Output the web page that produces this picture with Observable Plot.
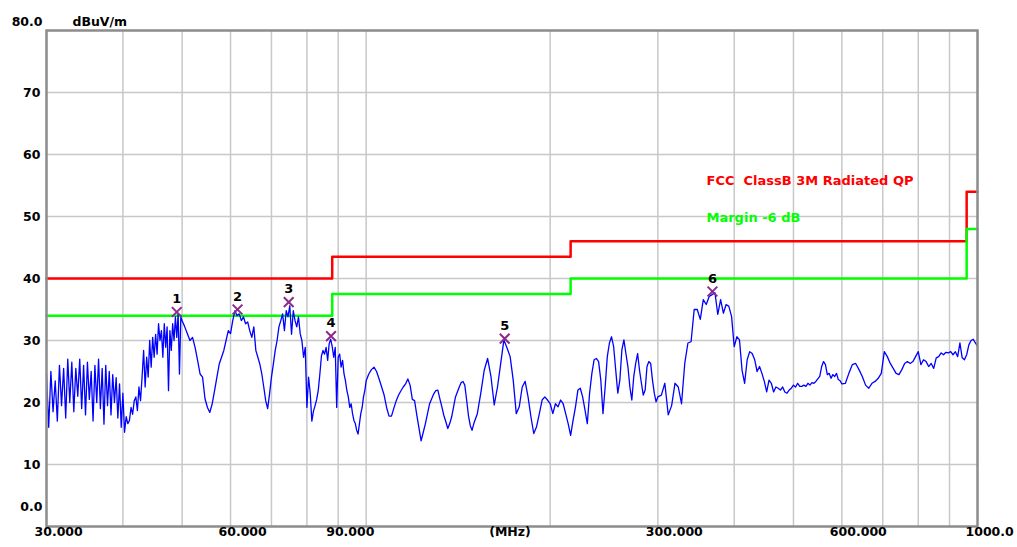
<!DOCTYPE html>
<html><head><meta charset="utf-8">
<script src="https://cdn.jsdelivr.net/npm/d3@7"></script>
<script src="https://cdn.jsdelivr.net/npm/@observablehq/plot@0.6"></script>
<style>
html,body{margin:0;padding:0;background:#fff;}
#chart svg{display:block;}
</style></head><body><div id="chart"></div>
<script>
// ---- Axis ticks ----
const xTickValues = [30, 60, 90, 300, 600, 1000];
const xTickLabels = ["30.000", "60.000", "90.000", "300.000", "600.000", "1000.0"];
const xGrid = [40, 50, 60, 70, 80, 90, 100, 200, 300, 400, 500, 600, 700, 800, 900];
const yTickValues = [10, 20, 30, 40, 50, 60, 70];
const yGrid = [10, 20, 30, 40, 50, 60, 70];

// ---- Limit lines (FCC Class B 3m QP) and margin ----
const limitFreq = [30, 88, 216, 960, 1000];
const limitLevel = [40, 43.5, 46, 54, 54];
const marginLevel = [34, 37.5, 40, 48, 48];

// ---- Marked peaks ----
const markerNo = ["1", "2", "3", "4", "5", "6"];
const markerFreq = [49.0, 61.6, 74.7, 87.6, 168.5, 368.5];
const markerLevel = [34.6, 35.0, 36.2, 30.7, 30.3, 37.9];

// ---- Measured trace (MHz, dBuV/m) ----
const freqA = [30,30.25,30.5,30.75,31,31.25,31.5,31.75,32,32.25,32.5,32.75,33,33.25,33.5,33.75,34,34.25,34.5,34.75,35,35.25,35.5,35.75,36,36.25,36.5,36.75,37,37.25,37.5,37.75,38,38.25,38.5,38.75,39,39.25,39.5,39.75,40];
const levelA = [24.5,16.0,25.0,18.5,23.5,17.0,26.0,19.5,25.5,17.5,27.0,20.0,26.5,18.5,25.5,21.0,27.0,19.0,26.0,18.0,26.5,20.5,25.0,17.0,26.0,20.0,27.0,19.0,25.5,16.5,26.0,19.5,25.0,18.0,24.5,20.0,24.0,17.5,23.0,16.0,21.5];

const freqB = [40.25,40.5,40.75,41,41.25,41.5,41.75,42,42.25,42.5,42.75,43,43.25,43.5,43.75,44,44.25,44.5,44.75,45,45.25,45.5,45.75,46,46.25,46.5,46.75,47,47.25,47.5,47.75,48,48.25,48.5,48.75,49,49.25,49.5,49.75,50];
const levelB = [15.2,17.7,16.6,17.1,19.2,18.1,20.3,20.9,18.7,22.5,20.3,24.1,28.4,22.5,27.3,24.1,30.0,25.7,30.5,27.3,31.0,27.8,32.7,30.0,31.6,27.3,32.7,28.9,32.2,21.9,31.6,28.4,32.7,30.0,33.8,30.5,34.3,24.6,33.8,33.2];

const freqC = [50.5,51,51.5,52,52.5,53,53.5,54,54.5,55,55.5,56,56.5,57,57.5,58,58.5,59,59.5,60];
const levelC = [32.2,31.1,30.0,30.5,28.9,26.8,24.6,24.1,20.6,19.2,18.4,19.8,21.9,24.1,26.2,27.3,28.4,30.0,31.6,31.1];

const freqD = [60.5,61,61.5,62,62.5,63,63.5,64,64.5,65,65.5,66,66.5,67,67.5,68,68.5,69,69.5,70,70.5,71,71.5,72,72.5,73,73.5,74,74.5,75,75.5,76,76.5,77,77.5,78,78.5,79,79.5,80,80.5,81,81.5,82,82.5,83,83.5,84,84.5,85,85.5,86,86.5,87,87.5,88,88.5,89,89.5,90,90.5,91,91.5,92,92.5,93,93.5,94,94.5,95,95.5,96,96.5,97,97.5,98,98.5,99,99.5,100];
const levelD = [33.2,34.8,34.0,34.3,33.2,33.8,32.7,33.0,31.6,30.5,32.2,28.4,27.3,26.2,24.6,22.5,20.3,19.0,21.4,24.1,26.2,28.4,30.0,32.2,33.2,34.3,31.6,34.8,33.8,35.6,31.0,34.8,33.2,32.2,33.8,31.1,30.0,27.3,28.9,19.2,24.1,21.5,17.0,18.6,19.5,20.5,22.0,24.6,27.5,28.4,27.8,28.9,26.8,29.5,30.2,29.0,27.3,28.9,19.2,27.3,27.8,25.7,26.8,24.6,23.5,21.9,20.9,19.2,19.8,18.2,17.1,16.6,15.5,14.9,16.6,18.2,19.2,20.9,21.9,23.5];

const freqE = [101,102,103,104,105,106,107,108,109,110,111,112,113,114,115,116,117,118,119,120,121,122,123,124,125,126,127,128,129,130,131,132,133,134,135,136,137,138,139,140,141,142,143,144,145,146,147,148,149,150];
const levelE = [24.6,25.3,25.7,25.0,23.8,22.5,21.2,19.2,17.8,17.8,19.1,20.3,21.2,21.9,22.5,23.0,23.8,22.8,20.5,20.3,18.0,15.9,13.8,15.2,16.6,18.2,19.8,20.6,21.4,21.9,22.0,20.6,19.3,17.9,16.9,15.8,16.6,17.7,19.3,20.9,21.7,22.5,23.2,23.4,22.8,20.4,17.9,16.3,15.5,16.6];

const freqF = [152,154,156,158,160,162,164,166,168,170,172,174,176,178,180,182,184,186,188,190,192,194,196,198,200,202,204,206,208,210,212,214,216,218,220,222,224,226,228,230,232,234,236,238,240,242,244,246,248,250,252,254,256,258,260,262,264,266,268,270,272,274,276,278,280,282,284,286,288,290,292,294,296,298,300];
const levelF = [18.2,21.5,25.2,27.1,24.2,19.6,22.5,26.3,30.1,28.8,27.4,23.6,18.2,19.3,22.5,23.4,20.9,17.7,15.0,16.1,18.2,20.4,20.9,20.4,19.8,18.2,19.8,19.3,20.4,19.8,18.2,16.6,14.7,17.1,19.3,22.0,22.3,20.9,18.8,16.6,21.5,24.7,26.9,27.1,26.6,23.6,18.2,22.5,27.4,29.6,30.6,29.0,25.2,21.5,23.6,28.5,30.1,27.9,25.8,22.5,20.4,24.2,26.3,27.9,25.2,23.1,21.2,22.0,25.8,26.6,26.3,23.6,21.5,20.1,20.9];

const freqG = [304,308,312,316,320,324,328,332,336,340,344,348,352,356,360,364,368,372,376,380,384,388,392,396,400,404,408,412,416,420,424,428,432,436,440,444,448,452,456,460,464,468,472,476,480,484,488,492,496,500,504,508,512,516,520,524,528,532,536,540,544,548,552,556,560,564,568,572,576,580,584,588,592,596,600];
const levelG = [21.2,23.1,18.0,19.5,23.1,22.5,19.8,26.3,29.6,29.8,35.0,35.0,33.4,36.6,35.8,37.1,37.4,37.7,34.2,36.6,34.4,35.8,35.5,33.9,29.0,30.6,30.1,25.2,23.1,26.9,28.2,27.9,26.9,25.0,25.8,24.7,23.4,21.7,23.6,23.1,21.7,22.5,22.3,22.0,22.5,21.7,21.5,22.0,22.3,22.8,22.5,23.1,22.6,22.6,22.8,22.6,23.1,22.8,23.2,23.1,23.4,23.8,24.2,25.8,26.6,26.1,24.5,24.7,23.9,24.5,24.2,24.7,23.7,23.5,23.0];

const freqH = [608,616,624,632,640,648,656,664,672,680,688,696,704,712,720,728,736,744,752,760,768,776,784,792,800,808,816,824,832,840,848,856,864,872,880,888,896,904,912,920,928,936,944,952,960,968,976,984,992,1000];
const levelH = [23.1,24.7,26.1,26.3,25.3,24.2,22.8,22.3,23.1,23.4,23.9,24.7,28.2,27.4,26.3,25.5,24.7,24.5,25.3,26.3,26.6,26.3,26.6,27.4,28.2,26.1,26.9,26.6,25.8,26.3,25.5,27.2,27.4,28.0,27.7,28.1,28.0,28.2,27.7,28.2,27.4,29.6,27.2,26.9,27.7,29.3,30.0,30.2,29.6,29.1];

// ---- Build tables ----
const trace = [];
[[freqA, levelA], [freqB, levelB], [freqC, levelC], [freqD, levelD],
 [freqE, levelE], [freqF, levelF], [freqG, levelG], [freqH, levelH]]
  .forEach(([fs, ls]) => fs.forEach((f, i) => trace.push({f, v: ls[i]})));
const limit = limitFreq.map((f, i) => ({f, v: limitLevel[i]}));
const margin = limitFreq.map((f, i) => ({f, v: marginLevel[i]}));
const markers = markerNo.map((n, i) => ({n, f: markerFreq[i], v: markerLevel[i]}));
const xTicks = xTickValues.map((f, i) => ({f, label: xTickLabels[i]}));

const font = "'DejaVu Sans', sans-serif";

const chart = Plot.plot({
  width: 1017,
  height: 547,
  marginLeft: 46,
  marginRight: 40,
  marginTop: 30,
  marginBottom: 21,
  style: {fontFamily: font, background: "#ffffff", overflow: "visible"},
  x: {type: "log", domain: [30, 1000], axis: null},
  y: {domain: [0, 80], axis: null},
  marks: [
    Plot.ruleX(xGrid, {stroke: "#c8c8c8", strokeWidth: 1.5}),
    Plot.ruleY(yGrid, {stroke: "#c8c8c8", strokeWidth: 1.5}),
    Plot.line(limit, {x: "f", y: "v", curve: "step-after", stroke: "#ff0000", strokeWidth: 2.5}),
    Plot.line(margin, {x: "f", y: "v", curve: "step-after", stroke: "#00ff00", strokeWidth: 2.5}),
    Plot.line(trace, {x: "f", y: "v", stroke: "#0000ff", strokeWidth: 1.3}),
    Plot.dot(markers, {x: "f", y: "v", symbol: "times", r: 4.5, stroke: "#8b2a8b", strokeWidth: 2}),
    Plot.text(markers, {x: "f", y: "v", text: "n", dy: -13, fontWeight: "bold", fontSize: 13, fill: "#000"}),
    Plot.frame({stroke: "#8c8c8c", strokeWidth: 2.5}),
    // y-axis labels
    Plot.text(yTickValues, {y: d => d, text: d => String(d), frameAnchor: "left", textAnchor: "end", dx: -6, fontWeight: "bold", fontSize: 12.5, fill: "#000"}),
    Plot.text(["80.0"], {frameAnchor: "top-left", textAnchor: "end", dx: -4, dy: -13, fontWeight: "bold", fontSize: 12.5, fill: "#000"}),
    Plot.text(["0.0"], {frameAnchor: "bottom-left", textAnchor: "end", dx: -4, dy: -16, fontWeight: "bold", fontSize: 12.5, fill: "#000"}),
    Plot.text(["dBuV/m"], {frameAnchor: "top-left", textAnchor: "start", dx: 26, dy: -13, fontWeight: "bold", fontSize: 12.5, fill: "#000"}),
    // x-axis labels
    Plot.text(xTicks, {x: "f", text: "label", frameAnchor: "bottom", textAnchor: "start", dx: -12, dy: 9, fontWeight: "bold", fontSize: 12.5, fill: "#000"}),
    Plot.text(["(MHz)"], {frameAnchor: "bottom", textAnchor: "middle", dx: -2, dy: 9, fontWeight: "bold", fontSize: 12.5, fill: "#000"}),
    // legend texts
    Plot.text(["FCC\u00a0\u00a0ClassB 3M Radiated QP"], {frameAnchor: "top-left", textAnchor: "start", dx: 660, dy: 145, fontWeight: "bold", fontSize: 13, fill: "#ff0000"}),
    Plot.text(["Margin -6 dB"], {frameAnchor: "top-left", textAnchor: "start", dx: 660, dy: 182, fontWeight: "bold", fontSize: 13, fill: "#00ff00"})
  ]
});
document.getElementById("chart").appendChild(chart);
</script>
</body></html>
